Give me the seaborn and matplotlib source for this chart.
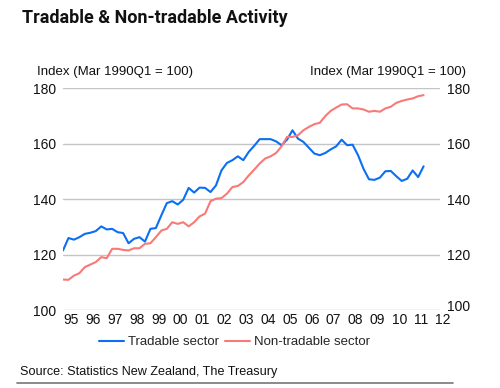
import numpy as np
import pandas as pd
import matplotlib
matplotlib.use("Agg")
import matplotlib.pyplot as plt
import matplotlib.transforms as mtransforms
from matplotlib.lines import Line2D
import seaborn as sns

# Quarterly index values (1994Q4 .. 2011Q2)
tradable = [
    121.5, 126.0, 125.4, 126.3, 127.5, 127.9, 128.5, 130.2, 129.1, 129.3,
    128.1, 127.8, 124.1, 125.7, 126.3, 124.7, 129.3, 129.6, 134.2, 138.6,
    139.3, 138.1, 139.8, 144.1, 142.4, 144.2, 144.1, 142.6, 145.0, 150.4,
    153.1, 154.1, 155.5, 154.1, 157.1, 159.3, 161.7, 161.7, 161.7, 160.9,
    159.5, 161.5, 164.9, 161.9, 160.7, 158.6, 156.5, 155.9, 156.7, 158.0,
    159.1, 161.5, 159.5, 159.7, 155.9, 151.0, 147.2, 147.0, 147.8, 150.1,
    150.2, 148.3, 146.6, 147.4, 150.4, 148.0, 151.9,
]
non_tradable = [
    111.0, 110.9, 112.4, 113.3, 115.5, 116.4, 117.3, 119.1, 118.7, 122.1,
    122.1, 121.7, 121.5, 122.3, 122.3, 123.9, 124.1, 126.3, 128.7, 129.3,
    131.7, 131.1, 131.7, 130.2, 131.7, 133.8, 134.8, 139.3, 140.2, 140.4,
    142.0, 144.4, 144.8, 146.2, 148.6, 150.7, 152.9, 154.7, 155.5, 156.7,
    159.1, 162.5, 162.5, 163.1, 164.9, 166.1, 167.1, 167.6, 170.0, 171.9,
    173.1, 174.2, 174.3, 172.8, 172.8, 172.4, 171.6, 171.9, 171.6, 172.8,
    173.4, 174.8, 175.5, 176.0, 176.4, 177.2, 177.6,
]
quarters = pd.period_range("1994Q4", periods=len(tradable), freq="Q")
year_pos = quarters.year + (quarters.quarter - 1) / 4.0

year_ticks = list(range(1995, 2013))
year_labels = ["95", "96", "97", "98", "99", "00", "01", "02", "03",
               "04", "05", "06", "07", "08", "09", "10", "11", "12"]
y_ticks = [100, 120, 140, 160, 180]

df = pd.DataFrame({
    "year": np.concatenate([year_pos, year_pos]),
    "value": tradable + non_tradable,
    "series": ["Tradable sector"] * len(tradable) + ["Non-tradable sector"] * len(non_tradable),
})

sns.set_style("white")
plt.rcParams["font.family"] = ["Liberation Sans", "DejaVu Sans"]

blue = "#0a6ff2"
red = "#f77a78"

fig = plt.figure(figsize=(5.0, 3.88), dpi=100)
ax = fig.add_axes([0.126, 0.201, 0.754, 0.571])

sns.lineplot(data=df, x="year", y="value", hue="series",
             palette={"Tradable sector": blue, "Non-tradable sector": red},
             linewidth=1.5, ax=ax, legend=False)

ax.set_xlim(1994.75, 2012.0)
ax.set_ylim(100, 180)
ax.set_yticks(y_ticks)
ax.set_xticks(year_ticks)
ax.set_xticklabels(year_labels)
ax.grid(axis="y", color="#c4c4c4", linewidth=1.0)
ax.set_axisbelow(True)
for s in ax.spines.values():
    s.set_visible(False)
ax.tick_params(axis="both", length=0, labelsize=10, colors="#111111")
ax.tick_params(axis="x", pad=2)
ax.tick_params(axis="y", pad=5)
ax.set_xlabel("")
ax.set_ylabel("")
offset = mtransforms.ScaledTranslation(3 / 100, 0, fig.dpi_scale_trans)
for lab in ax.get_xticklabels():
    lab.set_transform(lab.get_transform() + offset)

ax2 = ax.twinx()
ax2.set_ylim(100, 180)
ax2.set_yticks(y_ticks)
for s in ax2.spines.values():
    s.set_visible(False)
ax2.tick_params(axis="y", length=0, labelsize=10, colors="#111111", pad=5)
# the right-hand "100" sits a little high in the original, next to "12"
up = mtransforms.ScaledTranslation(0, 5 / 100, fig.dpi_scale_trans)
ax2.get_yticklabels()[0].set_transform(ax2.get_yticklabels()[0].get_transform() + up)

fig.text(0.074, 0.814, "Index (Mar 1990Q1 = 100)", fontsize=9.5, color="#111111", va="center")
fig.text(0.932, 0.814, "Index (Mar 1990Q1 = 100)", fontsize=9.5, color="#111111",
         va="center", ha="right")

fig.text(0.044, 0.953, "Tradable & Non-tradable Activity", fontsize=13, fontweight="bold",
         family=["Roboto", "Liberation Sans", "DejaVu Sans"],
         color="#111111", va="center")

handles = [Line2D([0], [0], color=blue, linewidth=1.5),
           Line2D([0], [0], color=red, linewidth=1.5)]
fig.legend(handles, ["Tradable sector", "Non-tradable sector"], loc="center",
           bbox_to_anchor=(0.469, 0.118), ncol=2, frameon=False, fontsize=9.5,
           handlelength=1.9, handletextpad=0.3, columnspacing=0.4)

fig.text(0.04, 0.04, "Source: Statistics New Zealand, The Treasury", fontsize=9.1,
         color="#111111", va="center")
fig.add_artist(Line2D([0.034, 0.906], [0.013, 0.013], color="#777777", linewidth=1.2))

fig.savefig("out.png", dpi=100)
